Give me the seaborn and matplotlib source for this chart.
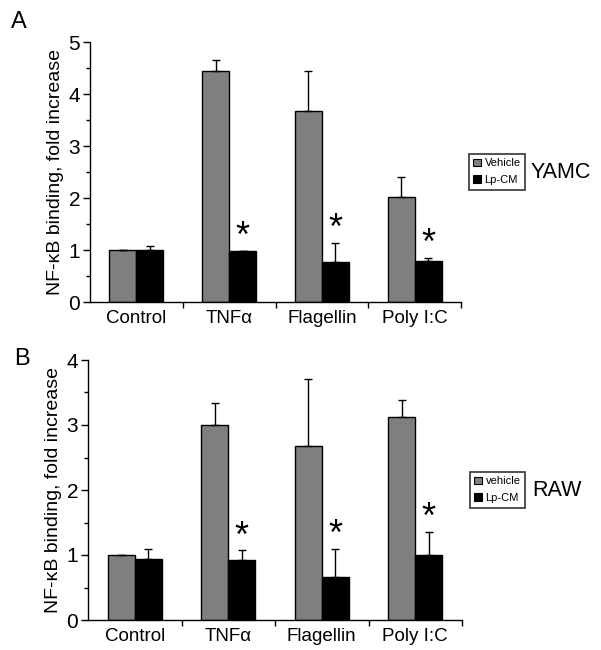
import pandas as pd
import seaborn as sns
import matplotlib.pyplot as plt
from matplotlib.patches import Patch
from matplotlib.ticker import MultipleLocator

# data
categories = ["Control", "TNF\u03b1", "Flagellin", "Poly I:C"]

yamc_vehicle = [1.00, 4.45, 3.68, 2.02]
yamc_vehicle_err = [0.00, 0.20, 0.77, 0.38]
yamc_lpcm = [1.00, 0.98, 0.76, 0.79]
yamc_lpcm_err = [0.07, 0.01, 0.37, 0.06]

raw_vehicle = [1.00, 3.00, 2.68, 3.12]
raw_vehicle_err = [0.00, 0.34, 1.03, 0.26]
raw_lpcm = [0.94, 0.92, 0.66, 1.00]
raw_lpcm_err = [0.16, 0.15, 0.44, 0.35]

# significance marks on the Lp-CM bars
signif = [False, True, True, True]

sns.set_style("ticks")
plt.rcParams['font.family'] = ['Liberation Sans', 'DejaVu Sans']
plt.rcParams['text.color'] = 'black'
plt.rcParams['axes.labelcolor'] = 'black'
plt.rcParams['xtick.color'] = 'black'
plt.rcParams['ytick.color'] = 'black'

gray = "#7f7f7f"


def panel(fig, rect, veh, veh_err, lp, lp_err, ymax, letter, letter_xy,
          cell, legend_labels, leg_xy):
    ax = fig.add_axes(rect)
    df = pd.DataFrame({
        "cond": categories * 2,
        "group": ["Vehicle"] * 4 + ["Lp-CM"] * 4,
        "val": veh + lp,
    })
    sns.barplot(data=df, x="cond", y="val", hue="group", order=categories,
                hue_order=["Vehicle", "Lp-CM"],
                palette={"Vehicle": gray, "Lp-CM": "black"},
                edgecolor="black", linewidth=1, width=0.58, gap=0,
                errorbar=None, legend=False, ax=ax)
    for cont, vals, errs in zip(ax.containers, [veh, lp], [veh_err, lp_err]):
        xs = [p.get_x() + p.get_width() / 2 for p in cont.patches]
        ax.errorbar(xs, vals, yerr=[[0] * len(errs), errs], fmt="none",
                    ecolor="black", elinewidth=1, capsize=3, capthick=1)
    lp_x = [p.get_x() + p.get_width() / 2 for p in ax.containers[1].patches]
    for x, v, e, s in zip(lp_x, lp, lp_err, signif):
        if s:
            ax.annotate("*", (x, v + e), xytext=(0, -3), textcoords="offset points",
                        ha="center", va="bottom", fontsize=26)

    ax.set_xlim(-0.5, 3.5)
    ax.set_ylim(0, ymax)
    ax.yaxis.set_major_locator(MultipleLocator(1))
    ax.yaxis.set_minor_locator(MultipleLocator(0.5))
    ax.set_xticks(range(4))
    ax.set_xticklabels(categories, fontsize=13.5)
    ax.set_xticks([0.5, 1.5, 2.5, 3.5], minor=True)
    ax.tick_params(axis="x", which="major", length=0, pad=6)
    ax.tick_params(axis="x", which="minor", length=4, width=1)
    ax.tick_params(axis="y", which="major", length=5, width=1, labelsize=15, pad=2)
    ax.tick_params(axis="y", which="minor", length=3, width=1)
    for sp in ["left", "bottom"]:
        ax.spines[sp].set_linewidth(1)
        ax.spines[sp].set_color("black")
    sns.despine(ax=ax)
    ax.set_xlabel("")
    ax.set_ylabel("NF-\u03baB binding, fold increase", fontsize=14, labelpad=3)

    fig.text(letter_xy[0], letter_xy[1], letter, fontsize=17,
             ha="left", va="center")
    handles = [Patch(facecolor=gray, edgecolor="black", linewidth=0.8),
               Patch(facecolor="black", edgecolor="black", linewidth=0.8)]
    leg = fig.legend(handles, legend_labels, loc="upper left",
                     bbox_to_anchor=leg_xy, bbox_transform=fig.transFigure,
                     fontsize=8, frameon=True, fancybox=False,
                     handlelength=0.7, handleheight=0.7, handletextpad=0.3,
                     borderpad=0.4, labelspacing=0.6, borderaxespad=0)
    leg.get_frame().set_edgecolor("black")
    leg.get_frame().set_linewidth(1.2)
    fig.text(leg_xy[0] + 0.103, leg_xy[1] - 0.029, cell, fontsize=15.5,
             ha="left", va="center")
    return ax


fig = plt.figure(figsize=(6.01, 6.50), dpi=100)
panel(fig, [90 / 601, 1 - 302 / 650, 371 / 601, 260 / 650],
      yamc_vehicle, yamc_vehicle_err, yamc_lpcm, yamc_lpcm_err, 5,
      "A", (11 / 601, 1 - 22 / 650), "YAMC",
      ["Vehicle", "Lp-CM"], (469 / 601, 1 - 154 / 650))
panel(fig, [88 / 601, 1 - 620 / 650, 374 / 601, 260 / 650],
      raw_vehicle, raw_vehicle_err, raw_lpcm, raw_lpcm_err, 4,
      "B", (14 / 601, 1 - 359 / 650), "RAW",
      ["vehicle", "Lp-CM"], (470 / 601, 1 - 472 / 650))

fig.savefig("out.png", dpi=100)
